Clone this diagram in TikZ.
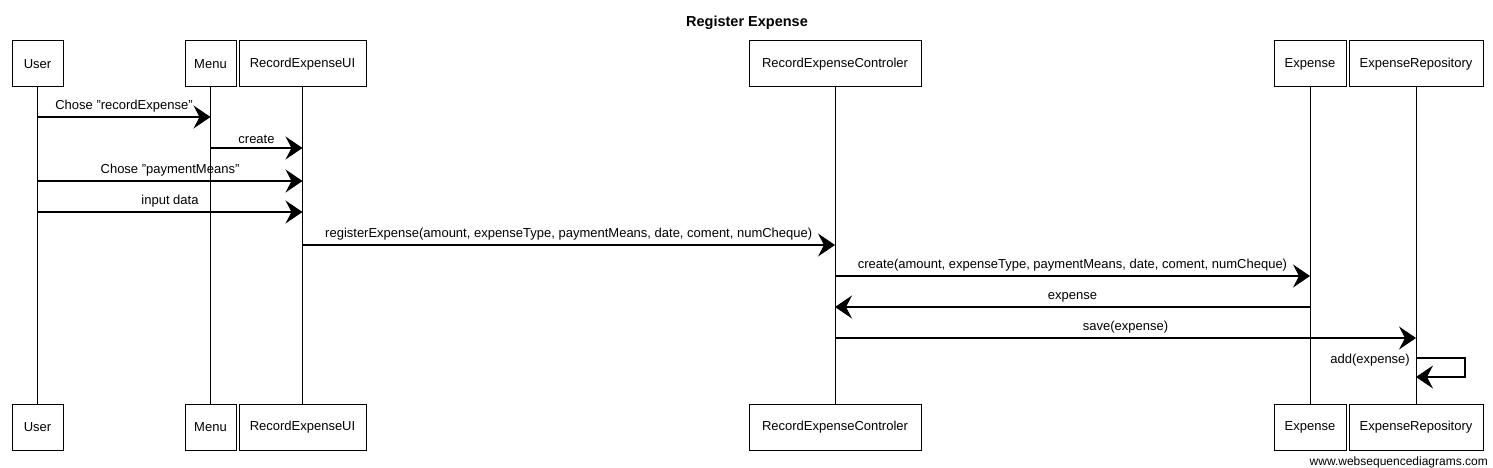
\documentclass[tikz,border=0pt]{standalone}
\usepackage{fontspec}
\setmainfont{Liberation Sans}
\usetikzlibrary{arrows.meta}
\begin{document}
\begin{tikzpicture}[x=1pt,y=-1pt,
  actor/.style={draw,line width=1pt,minimum height=46pt,inner sep=0pt,font=\fontsize{13}{15}\selectfont},
  life/.style={line width=0.9pt},
  msg/.style={line width=1.1pt,-{Stealth[length=17pt,width=23pt,inset=6pt]}},
  lbl/.style={font=\fontsize{13}{15}\selectfont,inner sep=1pt,anchor=base}
]
\useasboundingbox (0,0) rectangle (1493,468);
\node[font=\bfseries\fontsize{14.5}{16}\selectfont,anchor=base] (title) at (747,27) {Register Expense};
% top boxes
\node[actor,minimum width=51pt] (uT) at (37.5,64) {User};
\node[actor,minimum width=51pt] (mT) at (210.5,64) {Menu};
\node[actor,minimum width=127pt] (rT) at (302.5,64) {RecordExpenseUI};
\node[actor,minimum width=172pt] (cT) at (835,64) {RecordExpenseControler};
\node[actor,minimum width=72pt] (eT) at (1310,64) {Expense};
\node[actor,minimum width=134pt] (xT) at (1416,64) {ExpenseRepository};
% bottom boxes
\node[actor,minimum width=51pt] (uB) at (37.5,427) {User};
\node[actor,minimum width=51pt] (mB) at (210.5,427) {Menu};
\node[actor,minimum width=127pt] (rB) at (302.5,427) {RecordExpenseUI};
\node[actor,minimum width=172pt] (cB) at (835,427) {RecordExpenseControler};
\node[actor,minimum width=72pt] (eB) at (1310,427) {Expense};
\node[actor,minimum width=134pt] (xB) at (1416,427) {ExpenseRepository};
% lifelines
\foreach \n in {u,m,r,c,e,x} \draw[life] (\n T.south) -- (\n B.north);
% messages
\draw[msg] (uT.south |- 0,117) -- node[lbl,above=3pt] {Chose "recordExpense"} (mT.south |- 0,117);
\draw[msg] (mT.south |- 0,148) -- node[lbl,above=3pt] {create} (rT.south |- 0,148);
\draw[msg] (uT.south |- 0,181) -- node[lbl,above=3pt] {Chose "paymentMeans"} (rT.south |- 0,181);
\draw[msg] (uT.south |- 0,212) -- node[lbl,above=3pt] {input data} (rT.south |- 0,212);
\draw[msg] (rT.south |- 0,245) -- node[lbl,above=3pt] {registerExpense(amount, expenseType, paymentMeans, date, coment, numCheque)} (cT.south |- 0,245);
\draw[msg] (cT.south |- 0,276) -- node[lbl,above=3pt] {create(amount, expenseType, paymentMeans, date, coment, numCheque)} (eT.south |- 0,276);
\draw[msg] (eT.south |- 0,307) -- node[lbl,above=3pt] {expense} (cT.south |- 0,307);
\draw[msg] (cT.south |- 0,338) -- node[lbl,above=3pt] {save(expense)} (xT.south |- 0,338);
\coordinate (s1) at (1465,358);
\coordinate (s2) at (1465,377);
\draw[msg] (xT.south |- s1) -- (s1) -- (s2) -- (xT.south |- s2);
\node[lbl,anchor=base east] (addl) at (1411,363) {add(expense)};
\node[font=\fontsize{12}{14}\selectfont,anchor=base east,inner sep=0pt] (wm) at (1488,465) {www.websequencediagrams.com};
\end{tikzpicture}
\end{document}
